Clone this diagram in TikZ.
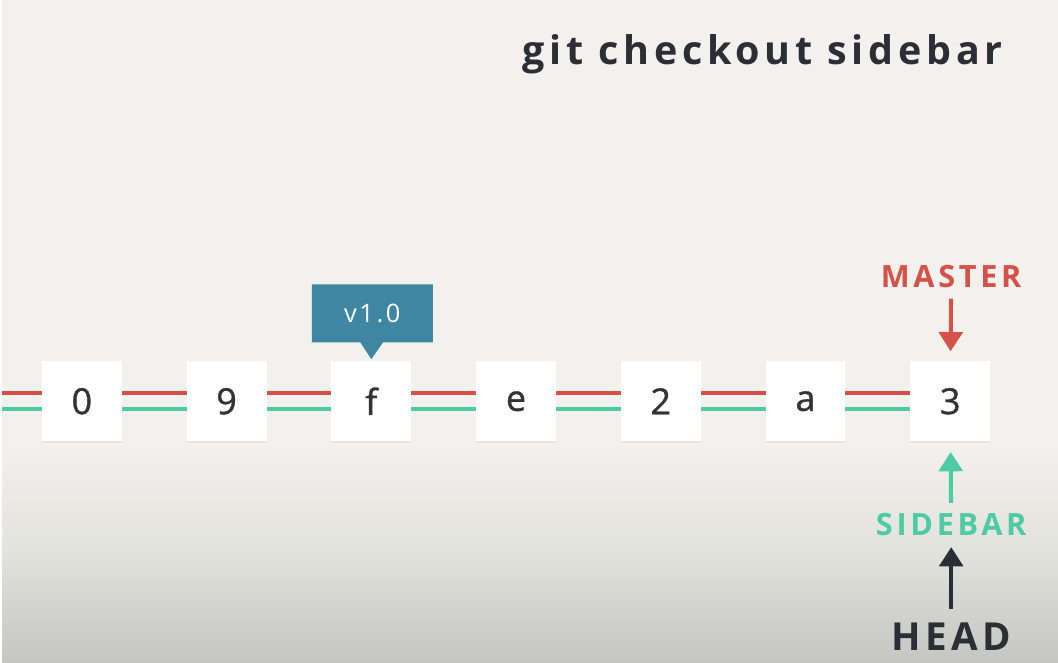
\documentclass[tikz,border=0pt]{standalone}
\usepackage{fontspec}
\setmainfont{Open Sans}
\newfontfamily\spacedfont[LetterSpace=12]{Open Sans}
\newfontfamily\tagfont[LetterSpace=10]{Open Sans}
\newfontfamily\commitfont[FakeBold=1]{Open Sans}
\usetikzlibrary{positioning,arrows.meta,shapes.callouts,shadows,backgrounds}
\definecolor{bgcolor}{HTML}{F2F1ED}
\definecolor{bgmid}{HTML}{E2E2DD}
\definecolor{bgdark}{HTML}{C5C6C1}
\definecolor{masterred}{HTML}{D5524A}
\definecolor{sideteal}{HTML}{4ECBA5}
\definecolor{tagblue}{HTML}{3E86A1}
\definecolor{headdark}{HTML}{2B2E35}
\definecolor{commitink}{HTML}{333333}
\begin{document}
\begin{tikzpicture}[
			x=0.02cm, y=0.02cm,
			commit/.style={
				fill=white,
				minimum size=1.6cm,
				inner sep=0,
				text=commitink,
				font=\commitfont\fontsize{20.5}{20.5}\selectfont,
				drop shadow={fill=black, opacity=0.05, shadow xshift=0pt, shadow yshift=-1pt}
			},
			branchline/.style={
				line width=2.3pt
			},
			reflabel/.style={
				inner sep=0,
				font=\spacedfont\bfseries\fontsize{17.5}{17.5}\selectfont
			},
			refarrow/.style={
				line width=2.3pt,
				-{Triangle[width=13.5pt,length=11pt]}
			},
			tag/.style={
				rectangle callout,
				fill=tagblue,
				text=white,
				minimum width=69pt,
				minimum height=33pt,
				callout pointer width=13pt,
				font=\tagfont\fontsize{14.5}{14.5}\selectfont
			}
		]

		% background with darker bottom
		\begin{scope}[on background layer]
			\fill[bgcolor] (0,0) rectangle (1058,664);
			\shade[top color=bgcolor, bottom color=bgdark, middle color=bgmid] (0,0) rectangle (1058,220);
		\end{scope}

		\node[anchor=base east, inner sep=0, text=headdark,
			font=\spacedfont\bfseries\fontsize{22.5}{22.5}\selectfont] (TITLE) at (1003,599) {git checkout sidebar};

		\coordinate (START) at (0,262);
		\foreach \lbl [count=\i from 0] in {0,9,f,e,2,a,3}{%
			\node[commit] (C\i) at (80+145*\i,262) {\lbl};
		}

		\begin{scope}[on background layer]
			\draw[branchline, masterred] ([yshift=4.6pt]START) -- ([yshift=4.6pt]C6.west);
			\draw[branchline, sideteal] ([yshift=-4.4pt]START) -- ([yshift=-4.4pt]C6.west);
		\end{scope}

		\node[tag, callout absolute pointer={([yshift=1pt]C2.north)}] (V10) at (371,350) {v1.0};

		\node[reflabel, text=masterred] (MASTER) at (951,387) {MASTER};
		\node[reflabel, text=sideteal] (SIDEBAR) at (951,138) {SIDEBAR};
		\node[reflabel, text=headdark, font=\spacedfont\bfseries\fontsize{22}{22}\selectfont] (HEAD) at (951,26) {HEAD};

		\draw[refarrow, masterred, shorten <=6pt, shorten >=5.5pt] (MASTER) -- (C6);
		\draw[refarrow, sideteal, shorten <=6pt, shorten >=6pt] (SIDEBAR) -- (C6);
		\draw[refarrow, headdark, shorten <=8pt, shorten >=6pt] (HEAD) -- (SIDEBAR);

	\end{tikzpicture}
\end{document}
